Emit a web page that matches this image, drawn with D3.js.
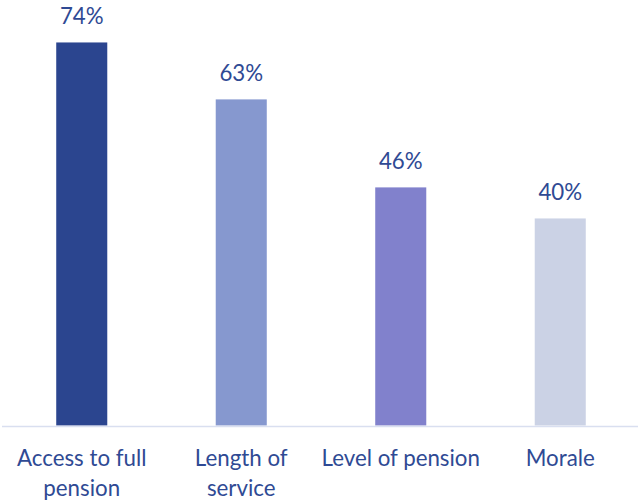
<!DOCTYPE html>
<html>
<head>
<meta charset="utf-8">
<script src="https://cdn.jsdelivr.net/npm/d3@7"></script>
<style>
  html, body { margin: 0; padding: 0; background: #ffffff; }
  svg { display: block; }
  text { font-family: Lato, "Open Sans", sans-serif; fill: #2f4a94; }
</style>
</head>
<body>
<svg id="chart" width="640" height="501"></svg>
<script>
// Share of respondents citing each reason
const categories = ["Access to full pension", "Length of service", "Level of pension", "Morale"];
const categoryLines = [["Access to full", "pension"], ["Length of", "service"], ["Level of pension"], ["Morale"]];
const values = [74, 63, 46, 40];
const barColors = ["#2b458f", "#8698cf", "#8181cc", "#cbd2e5"];

const svg = d3.select("#chart");
const baseline = 425.5;
const fontSize = 22.3;

const x = d3.scaleBand()
  .domain(categories)
  .range([2, 640])
  .paddingInner(0.68)
  .paddingOuter(0.34);

const y = d3.scaleLinear()
  .domain([0, 80])
  .range([baseline, 11.4]);

// bars
svg.append("g")
  .selectAll("rect")
  .data(categories)
  .join("rect")
  .attr("x", d => x(d))
  .attr("y", (d, i) => y(values[i]))
  .attr("width", x.bandwidth())
  .attr("height", (d, i) => baseline - y(values[i]))
  .attr("fill", (d, i) => barColors[i]);

// category axis line
svg.append("line")
  .attr("x1", 2).attr("x2", 638)
  .attr("y1", baseline + 1).attr("y2", baseline + 1)
  .attr("stroke", "#d9dff0")
  .attr("stroke-width", 1.6);

// value labels
svg.append("g")
  .selectAll("text")
  .data(categories)
  .join("text")
  .attr("x", d => x(d) + x.bandwidth() / 2)
  .attr("y", (d, i) => y(values[i]) - 18)
  .attr("text-anchor", "middle")
  .attr("font-size", fontSize)
  .text((d, i) => values[i] + "%");

// category labels
const labels = svg.append("g")
  .selectAll("text")
  .data(categories)
  .join("text")
  .attr("x", d => x(d) + x.bandwidth() / 2)
  .attr("y", 465.5)
  .attr("text-anchor", "middle")
  .attr("font-size", fontSize);

labels.selectAll("tspan")
  .data((d, i) => categoryLines[i])
  .join("tspan")
  .attr("x", function () { return d3.select(this.parentNode).attr("x"); })
  .attr("dy", (d, j) => j === 0 ? 0 : 30)
  .text(d => d);
</script>
</body>
</html>
